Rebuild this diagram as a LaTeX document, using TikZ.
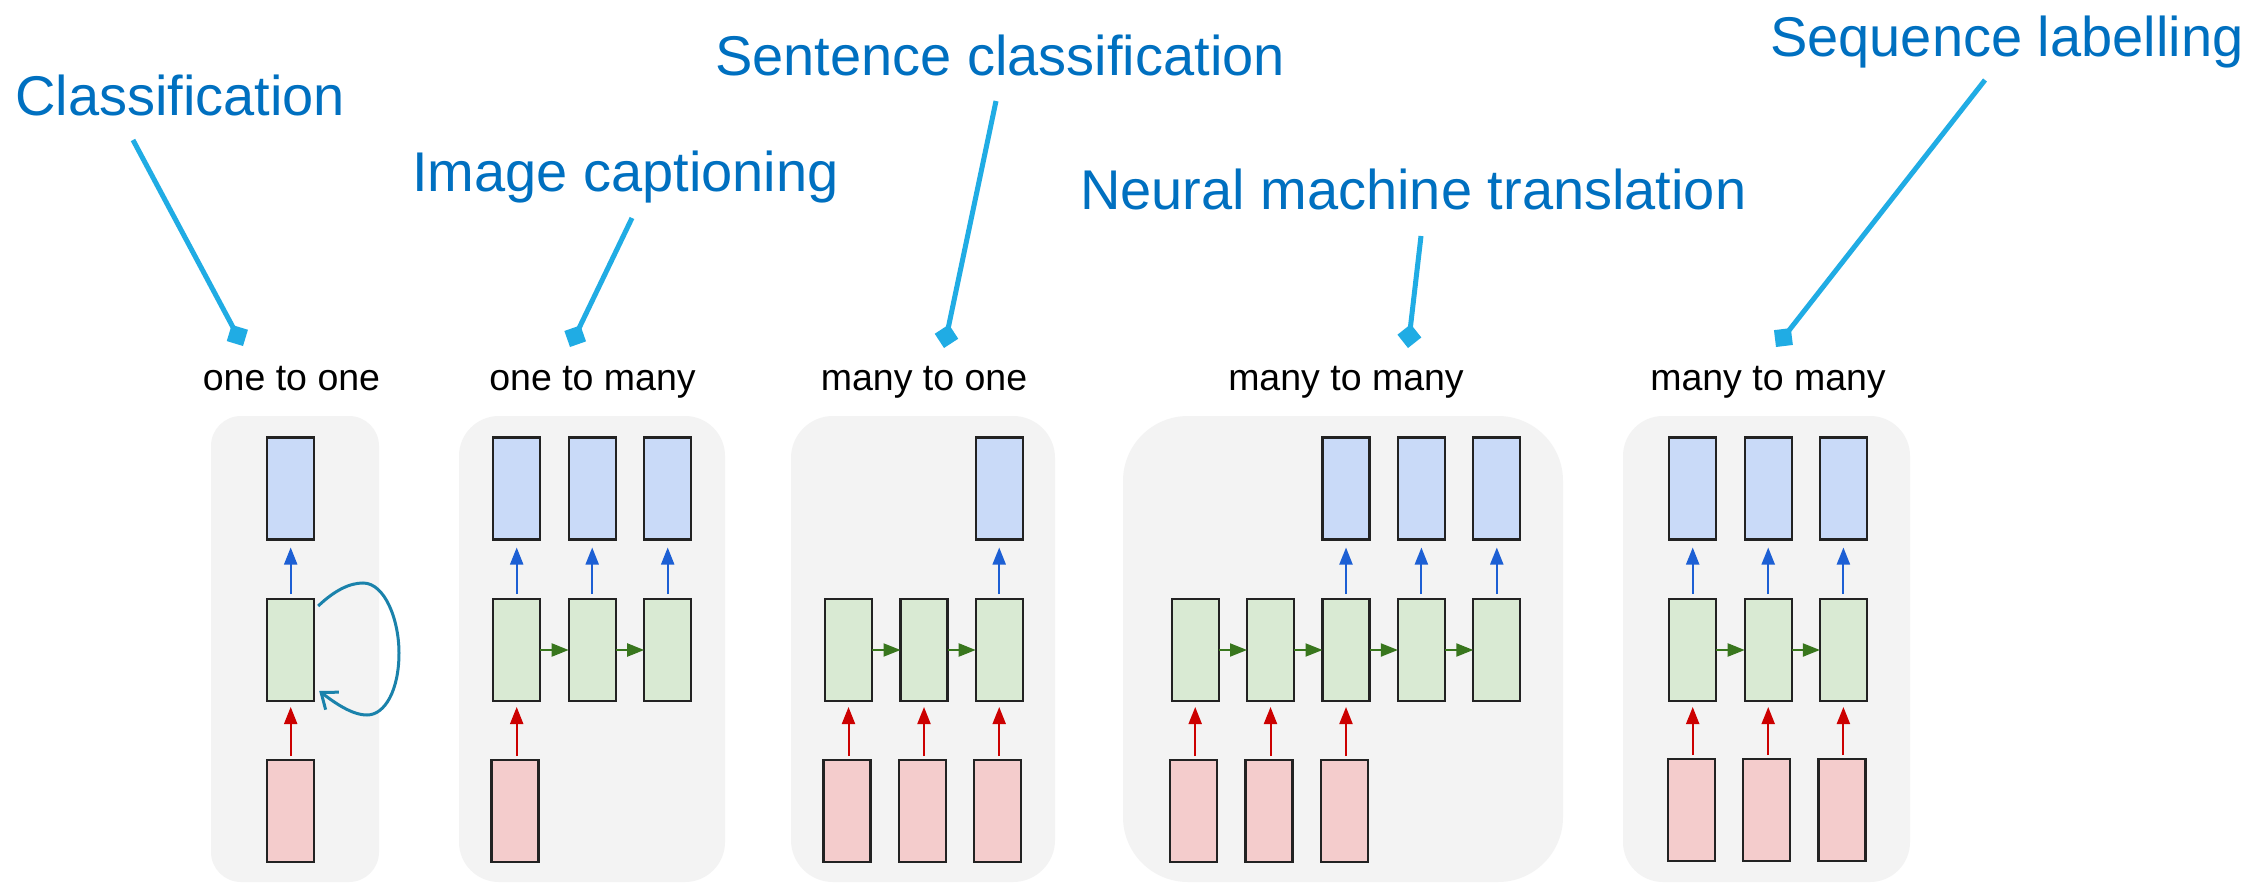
\documentclass[tikz,border=0pt]{standalone}
\usepackage{fontspec}
\setmainfont{Liberation Sans}
\usetikzlibrary{arrows.meta}
\definecolor{panelgray}{HTML}{F3F3F3}
\definecolor{outfill}{HTML}{C9DAF8}
\definecolor{hidfill}{HTML}{D9EAD3}
\definecolor{infill}{HTML}{F4CCCC}
\definecolor{cellline}{HTML}{222222}
\definecolor{upbluec}{HTML}{1C5FD4}
\definecolor{upredc}{HTML}{CC0000}
\definecolor{fwdgreen}{HTML}{38761D}
\definecolor{loopc}{HTML}{1A82AB}
\definecolor{taskblue}{HTML}{0070C0}
\definecolor{pointerc}{HTML}{20ACE4}
\begin{document}
\begin{tikzpicture}[x=1pt,y=-1pt,
  panel/.style={fill=panelgray},
  cell/.style={draw=cellline, line width=2.2pt, minimum width=47pt,
    minimum height=102pt, inner sep=0pt, outer sep=0pt},
  outc/.style={cell, fill=outfill},
  hidc/.style={cell, fill=hidfill},
  inc/.style={cell, fill=infill},
  upblue/.style={draw=upbluec, line width=2pt, shorten <=5pt, shorten >=8pt,
    -{Triangle[length=17pt,width=13pt]}},
  upred/.style={draw=upredc, line width=2pt, shorten <=4pt, shorten >=6pt,
    -{Triangle[length=17pt,width=13pt]}},
  fwd/.style={draw=fwdgreen, line width=2pt, -{Triangle[length=17pt,width=13pt]}},
  selfloop/.style={draw=loopc, line width=3pt, -{Straight Barb[length=14pt,width=22pt]}},
  pointer/.style={draw=pointerc, line width=5pt, -{Turned Square[length=24pt,width=24pt]}},
  task/.style={text=taskblue, inner sep=0pt, anchor=base west,
    font=\fontsize{56}{60}\selectfont},
  kind/.style={text=black, inner sep=0pt, anchor=base,
    font=\fontsize{37.5}{40}\selectfont}
]
\useasboundingbox (0,0) rectangle (2257,885);
\fill[white] (0,0) rectangle (2257,885);

% background panels
\fill[panel, rounded corners=30pt] (211,416) rectangle (379,882);
\fill[panel, rounded corners=40pt] (459,416) rectangle (725,882);
\fill[panel, rounded corners=42pt] (791,416) rectangle (1055,882);
\fill[panel, rounded corners=65pt] (1123,416) rectangle (1563,882);
\fill[panel, rounded corners=40pt] (1623,416) rectangle (1910,882);

% panel titles
\node[kind] (k1) at (291.5,390) {one to one};
\node[kind] (k2) at (592.5,390) {one to many};
\node[kind] (k3) at (924,390) {many to one};
\node[kind] (k4) at (1346,390) {many to many};
\node[kind] (k5) at (1768,390) {many to many};

% one to one
\node[hidc] (g11) at (290.7,650) {};
\node[outc] (o11) at (290.7,488.5) {};
\node[inc] (i11) at (290.7,811) {};
\draw[upblue] (g11.north) -- (o11.south);
\draw[upred] (g11.south |- i11.north) -- (g11.south);
\draw[selfloop] ([xshift=4pt,yshift=-7pt]g11.north east)
  .. controls (335,590) and (350,583) .. (363,583)
  .. controls (385,583) and (399,620) .. (399,653)
  .. controls (399,690) and (385,715) .. (367,715)
  .. controls (352,715) and (335,703) .. ([xshift=5pt,yshift=10pt]g11.south east);

% one to many
\foreach \i/\x in {1/516.7,2/592.2,3/667.7}{
  \node[hidc] (g2\i) at (\x,650) {};
  \node[outc] (o2\i) at (\x,488.5) {};
  \draw[upblue] (g2\i.north) -- (o2\i.south);
}
\node[inc] (i21) at (515.0,811) {};
\draw[upred] (g21.south |- i21.north) -- (g21.south);
\draw[fwd] (g21.east) -- (g22.west);
\draw[fwd] (g22.east) -- (g23.west);

% many to one
\foreach \i/\x in {1/848.5,2/924,3/999.2}{
  \node[hidc] (g3\i) at (\x,650) {};
  \node[inc] (i3\i) at ({\x-1.5},811) {};
  \draw[upred] (g3\i.south |- i3\i.north) -- (g3\i.south);
}
\node[outc] (o33) at (999.2,488.5) {};
\draw[upblue] (g33.north) -- (o33.south);
\draw[fwd] (g31.east) -- (g32.west);
\draw[fwd] (g32.east) -- (g33.west);

% many to many, delayed
\foreach \i/\x in {1/1195.2,2/1270.5,3/1346,4/1421.4,5/1496.8}{
  \node[hidc] (g4\i) at (\x,650) {};
}
\foreach \i/\x in {1/1195.2,2/1270.5,3/1346}{
  \node[inc] (i4\i) at ({\x-1.5},811) {};
  \draw[upred] (g4\i.south |- i4\i.north) -- (g4\i.south);
}
\foreach \i/\x in {3/1346,4/1421.4,5/1496.8}{
  \node[outc] (o4\i) at (\x,488.5) {};
  \draw[upblue] (g4\i.north) -- (o4\i.south);
}
\draw[fwd] (g41.east) -- (g42.west);
\draw[fwd] (g42.east) -- (g43.west);
\draw[fwd] (g43.east) -- (g44.west);
\draw[fwd] (g44.east) -- (g45.west);

% many to many, synced
\foreach \i/\x in {1/1692.7,2/1768.2,3/1843.4}{
  \node[hidc] (g5\i) at (\x,650) {};
  \node[outc] (o5\i) at (\x,488.5) {};
  \node[inc] (i5\i) at ({\x-1.5},810) {};
  \draw[upblue] (g5\i.north) -- (o5\i.south);
  \draw[upred] (g5\i.south |- i5\i.north) -- (g5\i.south);
}
\draw[fwd] (g51.east) -- (g52.west);
\draw[fwd] (g52.east) -- (g53.west);

% task labels and their pointers
\node[task] (t1) at (15,116) {Classification};
\node[task] (t2) at (412,192) {Image captioning};
\node[task] (t3) at (715,76) {Sentence classification};
\node[task] (t4) at (1080,210) {Neural machine translation};
\node[task] (t5) at (1770,57) {Sequence labelling};

\coordinate (p1a) at (133,140);  \coordinate (p1b) at (243,346);
\coordinate (p2a) at (632,218);  \coordinate (p2b) at (570,347);
\coordinate (p3a) at (996,101);  \coordinate (p3b) at (944,348);
\coordinate (p4a) at (1421,236); \coordinate (p4b) at (1408,348);
\coordinate (p5a) at (1985,80);  \coordinate (p5b) at (1776,347);
\draw[pointer] (p1a) -- (p1b);
\draw[pointer] (p2a) -- (p2b);
\draw[pointer] (p3a) -- (p3b);
\draw[pointer] (p4a) -- (p4b);
\draw[pointer] (p5a) -- (p5b);
\end{tikzpicture}
\end{document}
